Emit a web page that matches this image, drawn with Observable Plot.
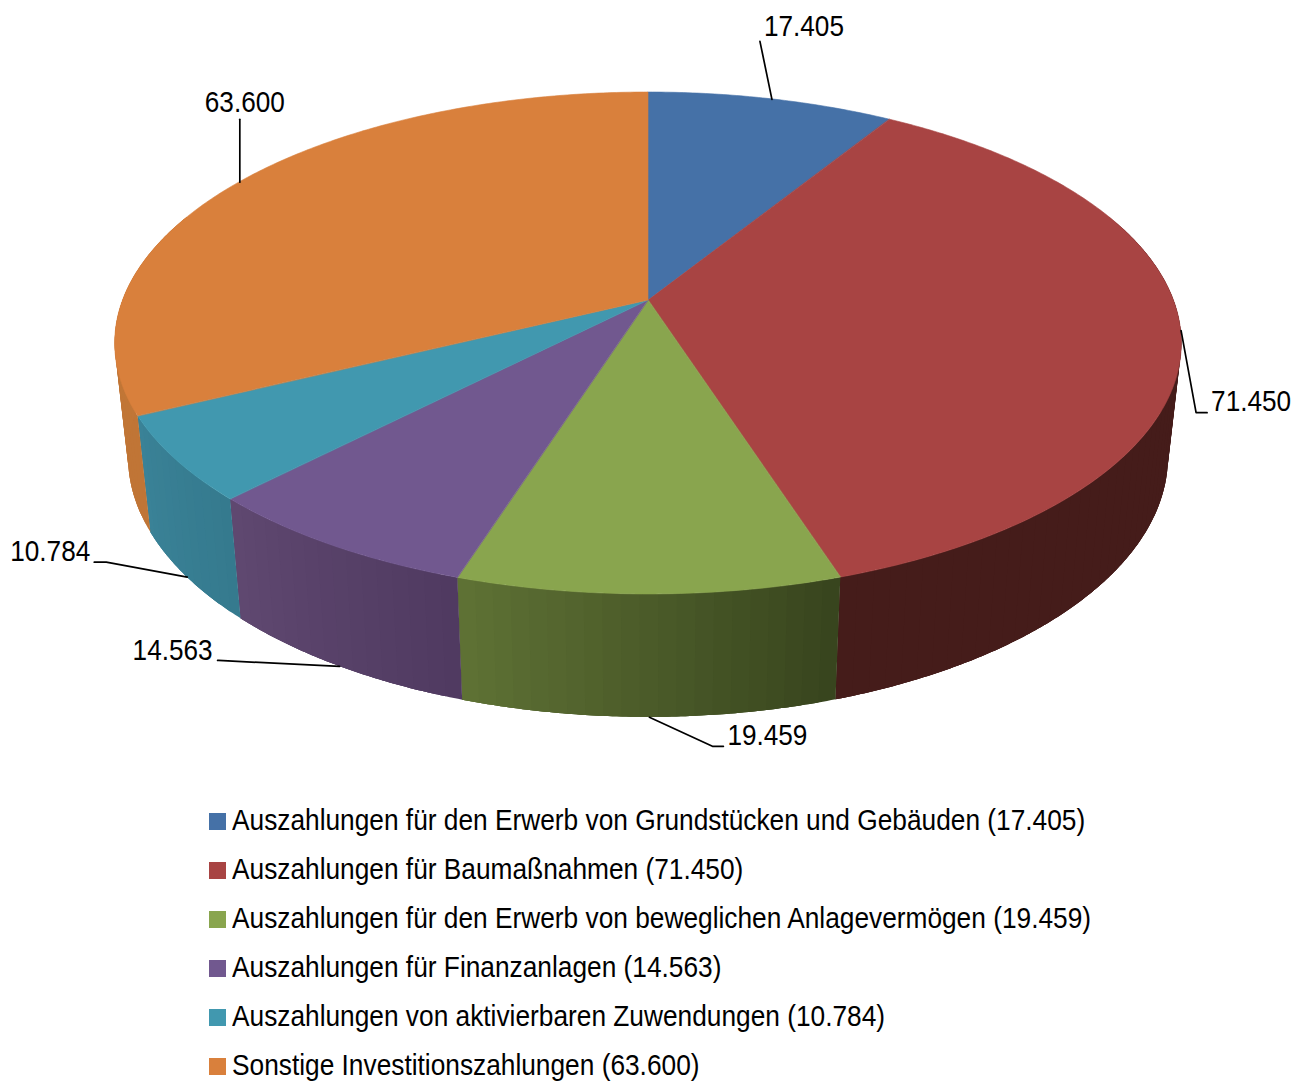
<!DOCTYPE html>
<html lang="de">
<head>
<meta charset="utf-8">
<script src="https://cdn.jsdelivr.net/npm/d3@7"></script>
<script src="https://cdn.jsdelivr.net/npm/@observablehq/plot@0.6"></script>
<style>
html,body{margin:0;padding:0;background:#fff;overflow:hidden;width:1304px;height:1083px}
svg{display:block}
#legend{position:absolute;left:0;top:796.5px;width:1304px;font:30px "Liberation Sans",Arial,sans-serif;color:#000}
.row{position:relative;height:49px;white-space:nowrap}
.sw{position:absolute;left:209px;top:16px;width:17px;height:17px}
.tx{position:absolute;left:232px;top:5.5px;line-height:35px;transform-origin:0 50%;transform:scaleX(.876)}
</style>
</head>
<body>
<div id="chart"></div>
<div id="legend"></div>
<script>
// Data
const categories = [
  "Auszahlungen für den Erwerb von Grundstücken und Gebäuden",
  "Auszahlungen für Baumaßnahmen",
  "Auszahlungen für den Erwerb von beweglichen Anlagevermögen",
  "Auszahlungen für Finanzanlagen",
  "Auszahlungen von aktivierbaren Zuwendungen",
  "Sonstige Investitionszahlungen"
];
const values = [17405, 71450, 19459, 14563, 10784, 63600];

// Styles
const topColors = ["#4571a7", "#a84443", "#89a54e", "#71588f", "#4198af", "#d9803c"];
const sideFrom = ["#3a5f8c", "#451c1a", "#37441d", "#4f3a60", "#357a8e", "#c07536"];
const sideTo   = ["#3a5f8c", "#451c1a", "#5f7235", "#5f4870", "#3a8297", "#c27737"];
// Leader layout: elbow and text offsets from the slice's rim point, and which rim it sits on
const rim      = ["top", "top", "bottom", "bottom", "bottom", "top"];
const elbow    = [[-12,-58,-12,-58], [15,82,26,82], [63,29,74,29], [-121,-6,-122,-6], [-81,-15,-93,-15], [0,-63,0,-63]];
const textAt   = [[32,-73,"middle"], [30,71,"start"], [78,18,"start"], [-127,-16,"end"], [-97,-26,"end"], [5,-80,"middle"]];

// Pie geometry (perspective view of a flat disc)
const cx = 648, cy = 300, a = 525.4, b = 243.6, k = 0.1713;
const topPt = t => {
  const s = Math.sin(t), c = Math.cos(t), w = 1 + k * c;
  return [cx + a * s / w, cy - b * c / w];
};
const botPt = t => {
  const [x, y] = topPt(t);
  return [cx + 0.975 * (x - cx), cy + 112 + 1.037 * (y - cy)];
};

const total = d3.sum(values);
const angles = [];
let cum = 0;
values.forEach(v => { const t0 = cum / total * 2 * Math.PI; cum += v; angles.push([t0, cum / total * 2 * Math.PI]); });

// Top faces
const faces = [];
angles.forEach(([t0, t1], i) => {
  const n = Math.ceil((t1 - t0) / 0.01);
  d3.range(n + 1).forEach(j => {
    const [x, y] = topPt(t0 + (t1 - t0) * j / n);
    faces.push({x1: x, y1: y, x2: cx, y2: cy, id: i, c: topColors[i]});
  });
});

// Side wall as shaded strips; each strip reaches under the next one so no seams show
const strips = [];
const step = 0.03;
let sid = 0;
angles.forEach(([t0, t1], i) => {
  const lo = Math.max(t0, 1.2), hi = Math.min(t1, 2 * Math.PI - 1.2);
  if (hi <= lo) return;
  const n = Math.ceil((hi - lo) / step);
  const col = d3.interpolateRgb(sideFrom[i], sideTo[i]);
  d3.range(n).forEach(j => {
    const ta = lo + (hi - lo) * j / n;
    const c = d3.color(col((j + 0.5) / n)).formatHex();
    d3.range(13).forEach(q => {
      const t = Math.min(hi, ta + q * (hi - lo) / n / 4);
      const [x1, y1] = topPt(t), [x2, y2] = botPt(t);
      strips.push({x1, y1, x2, y2, id: sid, c});
    });
    sid++;
  });
});

// Labels and leaders
const fmt = d3.formatLocale({decimal: ",", thousands: ".", grouping: [3], currency: ["", ""]}).format(",");
const leaders = [], labels = [];
angles.forEach(([t0, t1], i) => {
  const m = (t0 + t1) / 2;
  const [x, y] = rim[i] === "top" ? topPt(m) : botPt(m);
  const e = elbow[i];
  leaders.push({x, y, id: i}, {x: x + e[0], y: y + e[1], id: i}, {x: x + e[2], y: y + e[3], id: i});
  labels.push({x: x + textAt[i][0], y: y + textAt[i][1], anchor: textAt[i][2], t: fmt(values[i])});
});

const textMarks = ["start", "middle", "end"].map(an =>
  Plot.text(labels.filter(d => d.anchor === an), {
    x: "x", y: "y", text: "t", textAnchor: an, lineAnchor: "middle",
    fontSize: 30, fill: "#000"
  })
);

const plot = Plot.plot({
  width: 1304, height: 790,
  marginLeft: 0, marginRight: 0, marginTop: 0, marginBottom: 0,
  style: {fontFamily: '"Liberation Sans",Arial,sans-serif', background: "#fff"},
  x: {domain: [0, 1304], range: [0, 1304], axis: null},
  y: {domain: [0, 790], range: [0, 790], axis: null},
  color: {type: "identity"},
  marks: [
    Plot.area(strips, {x1: "x1", y1: "y1", x2: "x2", y2: "y2", z: "id", fill: "c"}),
    Plot.area(faces, {x1: "x1", y1: "y1", x2: "x2", y2: "y2", z: "id", fill: "c", stroke: "c", strokeWidth: 0.6}),
    Plot.line(leaders, {x: "x", y: "y", z: "id", stroke: "#000", strokeWidth: 1.7, curve: "linear"}),
    ...textMarks
  ]
});
document.getElementById("chart").append(plot);
plot.querySelectorAll('g[aria-label="text"] text').forEach(t => {
  t.setAttribute("textLength", 80);
  t.setAttribute("lengthAdjust", "spacingAndGlyphs");
});

// Legend
const legend = d3.select("#legend");
categories.forEach((c, i) => {
  const r = legend.append("div").attr("class", "row");
  r.append("div").attr("class", "sw").style("background", topColors[i]);
  r.append("span").attr("class", "tx").text(`${c} (${fmt(values[i])})`);
});
</script>
</body>
</html>
